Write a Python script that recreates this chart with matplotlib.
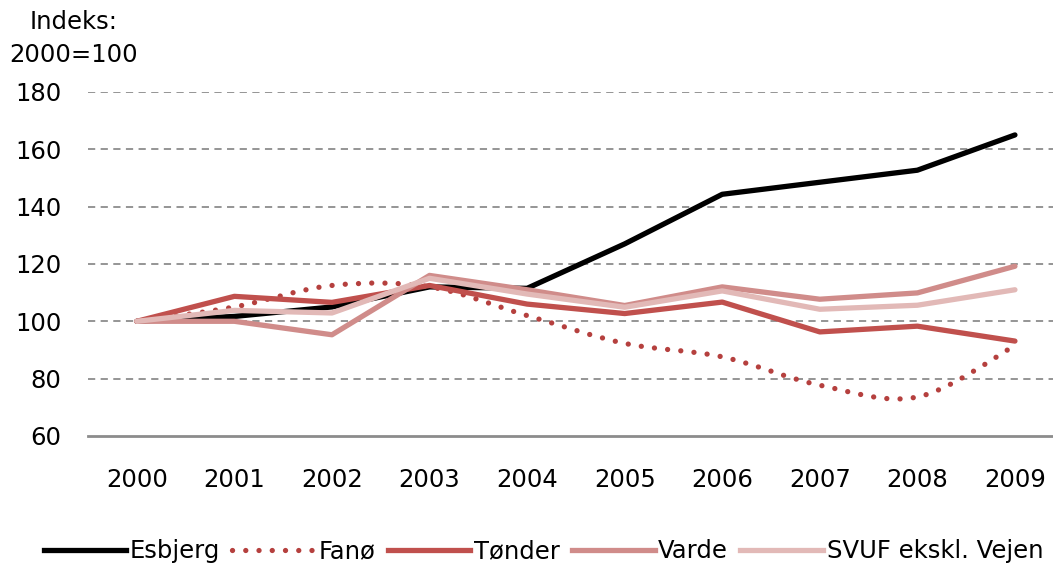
import matplotlib
matplotlib.use("Agg")
import matplotlib.pyplot as plt
from matplotlib.path import Path
from matplotlib.patches import PathPatch
from matplotlib.lines import Line2D
import numpy as np

years = ["2000", "2001", "2002", "2003", "2004", "2005", "2006", "2007", "2008", "2009"]
esbjerg = [100, 101.7, 105, 112, 111.5, 127, 144.3, 148.5, 152.7, 165]
fano = [100, 105, 112.5, 112, 102, 92.3, 87.6, 77.7, 73.6, 91.5]
tonder = [100, 108.7, 106.6, 112.5, 106, 102.7, 106.7, 96.3, 98.3, 93.1]
varde = [100, 100, 95.3, 116, 111, 105.5, 112, 107.7, 109.9, 119.2]
svuf = [100, 103.8, 102.9, 115, 109.5, 104.9, 110.6, 104.2, 105.6, 111]
yticks = [60, 80, 100, 120, 140, 160, 180]

c_esb = "#000000"
c_fano = "#B5403E"
c_ton = "#C0504D"
c_var = "#D08C8A"
c_svuf = "#E2B9B7"

FS = 17.5
plt.rcParams['font.family'] = ['DejaVu Sans']
fig = plt.figure(figsize=(10.53, 5.64), dpi=100)
ax = fig.add_axes([0.0836, 0.227, 0.9164, 0.610])

x = np.arange(len(years))
lw = 3.8

for yv in yticks[1:]:
    ax.axhline(yv, color="#8c8c8c", lw=1.3, ls=(0, (4, 3)), zorder=1)

ax.plot(x, esbjerg, color=c_esb, lw=lw, solid_capstyle="round", solid_joinstyle="round", zorder=3)

# smoothed dotted line for Fanø (Bezier through data points)
pts = np.column_stack([x, fano]).astype(float)
verts = [tuple(pts[0])]
codes = [Path.MOVETO]
n = len(pts)
for i in range(n - 1):
    p0 = pts[i - 1] if i > 0 else pts[i]
    p1 = pts[i]
    p2 = pts[i + 1]
    p3 = pts[i + 2] if i + 2 < n else pts[i + 1]
    c1 = p1 + (p2 - p0) / 6.0
    c2 = p2 - (p3 - p1) / 6.0
    verts += [tuple(c1), tuple(c2), tuple(p2)]
    codes += [Path.CURVE4] * 3
dotted = (0, (0.01, 2.5))
patch = PathPatch(Path(verts, codes), facecolor="none", edgecolor=c_fano, lw=lw,
                  linestyle=dotted, capstyle="round", zorder=4)
ax.add_patch(patch)

ax.plot(x, tonder, color=c_ton, lw=lw, solid_capstyle="round", solid_joinstyle="round", zorder=5)
ax.plot(x, varde, color=c_var, lw=lw, solid_capstyle="round", solid_joinstyle="round", zorder=6)
ax.plot(x, svuf, color=c_svuf, lw=lw, solid_capstyle="round", solid_joinstyle="round", zorder=7)

ax.set_xlim(-0.5, 9.39)
ax.set_ylim(60, 180)
ax.set_yticks(yticks)
ax.set_xticks(x)
ax.set_xticklabels(years)
for s in ["top", "right", "left"]:
    ax.spines[s].set_visible(False)
ax.spines["bottom"].set_color("#8c8c8c")
ax.spines["bottom"].set_linewidth(2)
ax.tick_params(axis="both", length=0, labelsize=FS, colors="black")
ax.tick_params(axis="y", pad=19)
ax.tick_params(axis="x", pad=23)

fig.text(0.028, 0.961, "Indeks:", fontsize=FS, va="center", ha="left")
fig.text(0.009, 0.902, "2000=100", fontsize=FS, va="center", ha="left")

handles = [
    Line2D([], [], color=c_esb, lw=lw),
    Line2D([], [], color=c_fano, lw=lw, ls=dotted, dash_capstyle="round"),
    Line2D([], [], color=c_ton, lw=lw),
    Line2D([], [], color=c_var, lw=lw),
    Line2D([], [], color=c_svuf, lw=lw),
]
labels = ["Esbjerg", "Fanø", "Tønder", "Varde", "SVUF ekskl. Vejen"]
fig.legend(handles, labels, loc="center", bbox_to_anchor=(0.516, 0.023), ncol=5,
           frameon=False, fontsize=FS, handlelength=3.4, handletextpad=0.15,
           columnspacing=0.5, borderaxespad=0, borderpad=0)

fig.savefig("out.png", dpi=100)
